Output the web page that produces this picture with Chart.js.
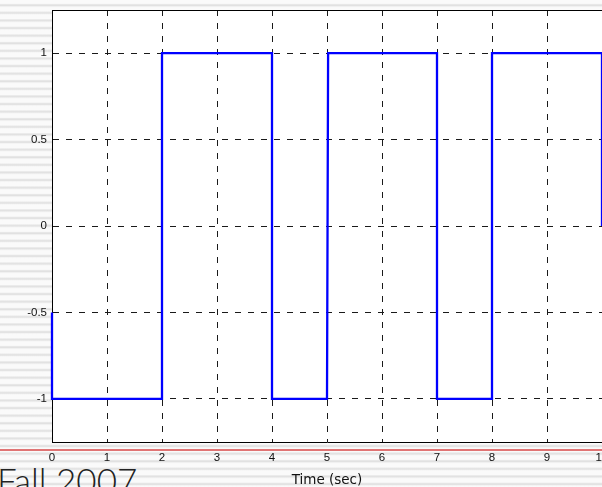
<!DOCTYPE html>
<html>
<head>
<meta charset="utf-8">
<script src="https://cdn.jsdelivr.net/npm/chart.js@4/dist/chart.umd.min.js"></script>
<style>
  html, body { margin: 0; padding: 0; }
  body {
    width: 602px; height: 487px; overflow: hidden;
    background: #fafafa;
  }
  #stage {
    position: relative; width: 602px; height: 487px; overflow: hidden;
    background-image: repeating-linear-gradient(to bottom,
      #fafafa 0px, #fafafa 2.4px, #e1e1e1 3.6px, #e1e1e1 4.6px, #fafafa 5.8px, #fafafa 7.6px);
    background-position: 0 1.2px;
  }
  #rule {
    position: absolute; left: 0; top: 449px; width: 602px; height: 2px;
    background: #e07474;
  }
  #footer {
    position: absolute; left: -3px; top: 460px;
    font-family: "Lato", "Open Sans", "Liberation Sans", sans-serif;
    font-weight: 300; font-size: 35px; line-height: 40px; color: #222;
    white-space: nowrap;
  }
  canvas { position: absolute; left: 0; top: 0; }
</style>
</head>
<body>
<div id="stage">
  <div id="rule"></div>
  <div id="footer">Fall 2007</div>
  <canvas id="c" width="602" height="487"></canvas>
</div>
<script>
// Square-wave response sampled at its switching instants
const timeSec = [0, 0, 2, 2, 4, 4, 5, 5.02, 7, 7, 8, 8, 10, 10];
const signal  = [-0.5, -1, -1, 1, 1, -1, -1, 1, 1, -1, -1, 1, 1, 0];

// Axis tick values
const xTicks = [0, 1, 2, 3, 4, 5, 6, 7, 8, 9, 10];
const yTicks = [-1, -0.5, 0, 0.5, 1];

const points = timeSec.map((t, i) => ({ x: t, y: signal[i] }));

const tickFont = { family: '"Liberation Sans", Arial, Helvetica, sans-serif', size: 11.5 };

// White plot area plus the top edge of the axes box
const axesBox = {
  id: 'axesBox',
  beforeDraw(chart) {
    const { ctx, chartArea: a } = chart;
    ctx.save();
    ctx.fillStyle = '#ffffff';
    ctx.fillRect(a.left, a.top, a.right - a.left, a.bottom - a.top);
    ctx.restore();
  },
  afterDraw(chart) {
    const { ctx, chartArea: a } = chart;
    ctx.save();
    ctx.strokeStyle = '#000';
    ctx.lineWidth = 1;
    ctx.beginPath();
    ctx.moveTo(a.left, a.top + 0.5);
    ctx.lineTo(a.right, a.top + 0.5);
    ctx.stroke();
    ctx.restore();
  }
};

new Chart(document.getElementById('c'), {
  type: 'line',
  data: {
    datasets: [{
      data: points,
      borderColor: '#0000ff',
      borderWidth: 2.3,
      pointRadius: 0,
      tension: 0,
      fill: false,
      clip: false
    }]
  },
  options: {
    responsive: false,
    animation: false,
    events: [],
    layout: { autoPadding: false, padding: { top: 10, right: 0, bottom: 0, left: 0 } },
    plugins: { legend: { display: false }, tooltip: { enabled: false } },
    scales: {
      x: {
        type: 'linear',
        min: 0, max: 10,
        afterFit(s) {
          s.height = 45;
          s.paddingLeft = 0;
          s.paddingRight = 0;
        },
        afterBuildTicks(s) { s.ticks = xTicks.map(v => ({ value: v })); },
        grid: { color: '#1a1a1a', lineWidth: 1, drawTicks: false },
        border: { display: true, color: '#000', width: 1, dash: [6, 7] },
        ticks: {
          autoSkip: false, maxRotation: 0, padding: 9,
          color: '#111', font: tickFont,
          callback: v => String(v)
        },
        title: {
          display: true, text: 'Time (sec)', color: '#111',
          font: { family: '"DejaVu Sans", Verdana, sans-serif', size: 13.5, lineHeight: 1.2 },
          padding: { top: 0, bottom: -2 }
        }
      },
      y: {
        type: 'linear',
        min: -1.25, max: 1.25,
        afterFit(s) {
          s.width = 52;
          s.paddingTop = 0;
          s.paddingBottom = 0;
        },
        afterBuildTicks(s) { s.ticks = yTicks.map(v => ({ value: v })); },
        grid: { color: '#1a1a1a', lineWidth: 1, drawTicks: false },
        border: { display: true, color: '#000', width: 1, dash: [6, 7] },
        ticks: {
          autoSkip: false, padding: 5,
          color: '#111', font: tickFont,
          callback: v => String(v)
        }
      }
    }
  },
  plugins: [axesBox]
});
</script>
</body>
</html>
